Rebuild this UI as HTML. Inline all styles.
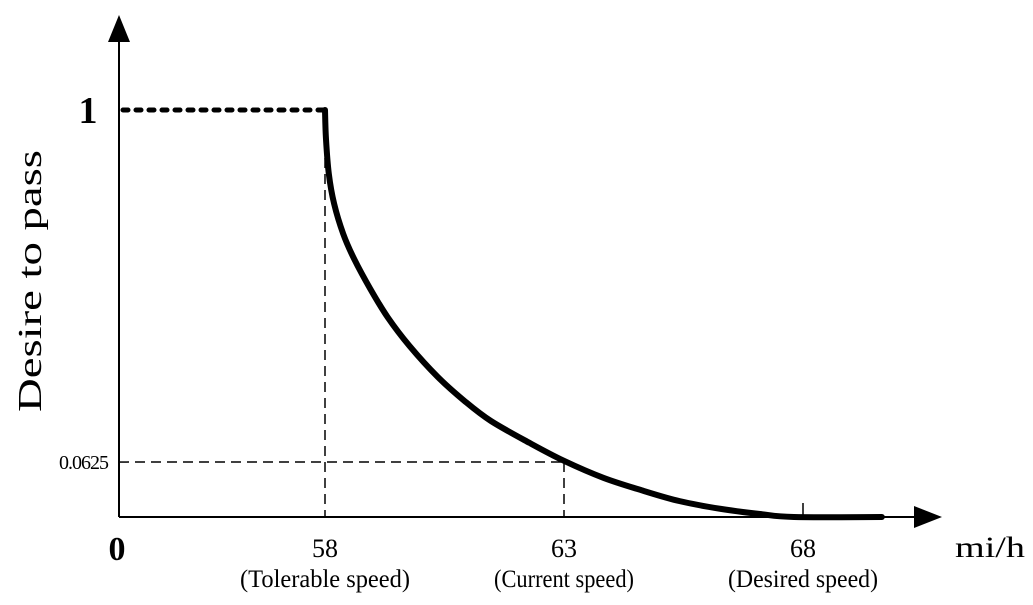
<!DOCTYPE html>
<html><head><meta charset="utf-8"><style>
html,body{margin:0;padding:0;background:#fff;width:1033px;height:605px;overflow:hidden}
text{font-family:"Liberation Serif",serif;fill:#000}
</style></head><body>
<svg id="chart" width="1033" height="605" viewBox="0 0 1033 605" xmlns="http://www.w3.org/2000/svg">
<g id="g"></g>
</svg>
<script>
const xVals=[58,58.02,58.08,58.19,58.38,58.61,58.95,59.31,59.77,60.36,60.92,61.47,62.28,63,63.83,64.67,65.42,66.28,67.10,67.81,69.65];
const yVals=[1,0.93,0.843,0.77,0.696,0.634,0.560,0.491,0.420,0.344,0.285,0.236,0.182,0.138,0.096,0.064,0.039,0.020,0.0074,0,0];
const xTicks=[58,63,68];
const xTickLabels=["58","63","68"];
const xTickNotes=["(Tolerable speed)","(Current speed)","(Desired speed)"];
const yRefVals=[0.135];
const yRefLabels=["0.0625"];

const X0=119,Y0=517;
function xs(v){return 325+(v-58)*47.8;}
function ys(v){return Y0-v*407;}
const NS="http://www.w3.org/2000/svg";
const g=document.getElementById('g');
function mk(tag,attrs,txt){const e=document.createElementNS(NS,tag);for(const k in attrs)e.setAttribute(k,attrs[k]);if(txt!==undefined)e.textContent=txt;g.appendChild(e);return e;}

let e=mk('line',{x1:X0,y1:Y0,x2:925,y2:Y0,stroke:'#000','stroke-width':2});


e=mk('polygon',{points:'942,517 914,506 914,528',fill:'#000'});


e=mk('line',{x1:X0,y1:Y0,x2:X0,y2:35,stroke:'#000','stroke-width':2});


e=mk('polygon',{points:'119,15 108,42 130,42',fill:'#000'});



e=mk('line',{x1:X0+4,y1:ys(1),x2:xs(58),y2:ys(1),stroke:'#000','stroke-width':5,'stroke-dasharray':'5 8','stroke-linecap':'round'});


e=mk('text',{x:88,y:ys(1)+13,'font-size':38,'font-weight':'bold','text-anchor':'middle'},'1');


e=mk('text',{x:117,y:560,'font-size':34,'font-weight':'bold','text-anchor':'middle'},'0');



const noteW=[170,140,150];
xTicks.forEach((v,i)=>{
  if(i<2){
    const top=i===0?ys(1):ys(yRefVals[0]);
    const l=mk('line',{x1:xs(v),y1:top,x2:xs(v),y2:Y0,stroke:'#000','stroke-width':1.5,'stroke-dasharray':'10 6'});
    
    
  } else {
    const l=mk('line',{x1:xs(v),y1:Y0-14,x2:xs(v),y2:Y0,stroke:'#000','stroke-width':1.5});
    
    
  }
  const t=mk('text',{x:xs(v),y:557,'font-size':26,'text-anchor':'middle'},xTickLabels[i]);
  
  
  const n=mk('text',{x:xs(v),y:587,'font-size':25,'text-anchor':'middle',textLength:noteW[i],lengthAdjust:'spacingAndGlyphs'},xTickNotes[i]);
  
  
});
yRefVals.forEach((v,i)=>{
  const l=mk('line',{x1:X0,y1:ys(v),x2:xs(63),y2:ys(v),stroke:'#000','stroke-width':1.5,'stroke-dasharray':'10 6'});
  
  
  const t=mk('text',{x:108,y:ys(v)+7,'font-size':20,'text-anchor':'end','letter-spacing':'-1'},yRefLabels[i]);
  
  
});

function smooth(){
  const p=xVals.map((v,i)=>[xs(v),ys(yVals[i])]);
  let s='M'+p[0][0]+','+p[0][1];
  for(let i=0;i<p.length-1;i++){
    const p0=p[i-1]||p[i],p1=p[i],p2=p[i+1],p3=p[i+2]||p[i+1];
    const c1=[p1[0]+(p2[0]-p0[0])/6,p1[1]+(p2[1]-p0[1])/6];
    const c2=[p2[0]-(p3[0]-p1[0])/6,p2[1]-(p3[1]-p1[1])/6];
    s+=' C'+c1.join(',')+' '+c2.join(',')+' '+p2.join(',');
  }
  return s;
}
e=mk('path',{d:smooth(),fill:'none',stroke:'#000','stroke-width':6,'stroke-linecap':'round','stroke-linejoin':'round'});



e=mk('text',{x:990,y:557,'font-size':30,'text-anchor':'middle',textLength:70,lengthAdjust:'spacingAndGlyphs'},'mi/h');


e=mk('text',{x:0,y:0,'font-size':34,'text-anchor':'middle',textLength:262,lengthAdjust:'spacingAndGlyphs',transform:'translate(41,281) rotate(-90)'},'Desire to pass');


</script>
</body></html>
